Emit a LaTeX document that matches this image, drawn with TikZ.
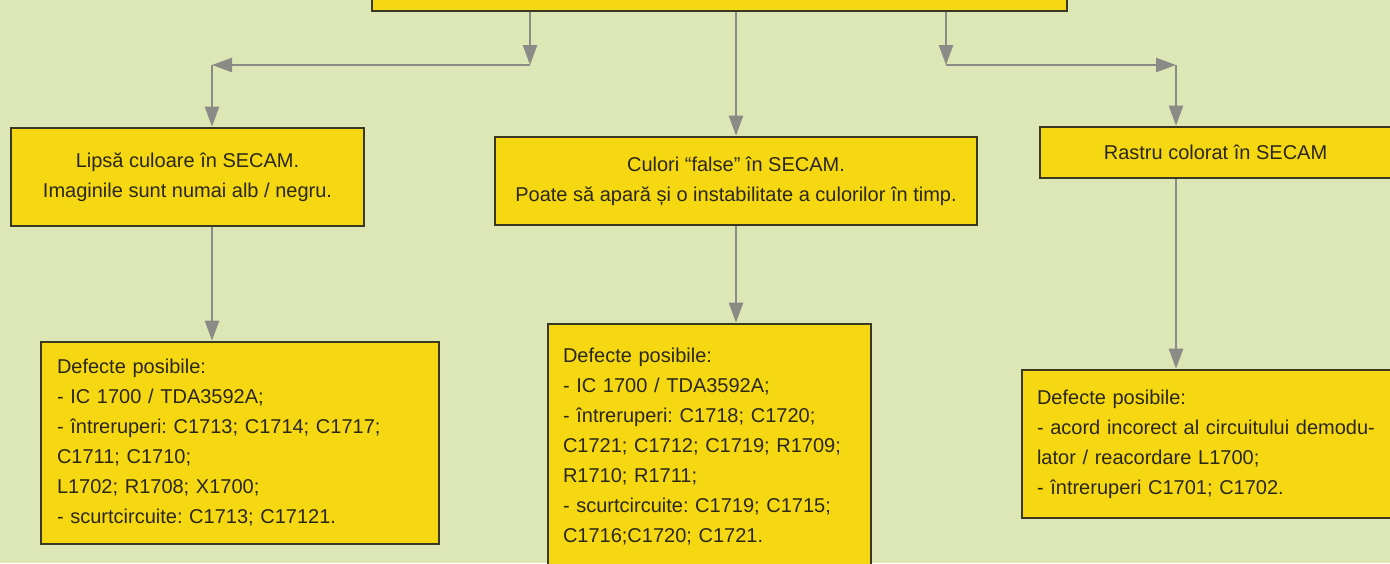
\documentclass[tikz,border=0pt]{standalone}
\usepackage{fontspec}
\setmainfont{Liberation Sans}
\usetikzlibrary{arrows.meta}
\definecolor{bg}{HTML}{DDE7B5}
\definecolor{boxfill}{HTML}{F6D812}
\definecolor{boxline}{HTML}{3A3722}
\definecolor{txt}{HTML}{2A2718}
\definecolor{arrgray}{HTML}{8A8A86}
\begin{document}
\begin{tikzpicture}[x=0.5pt,y=-0.5pt,
  box/.style={draw=boxline, line width=1.3pt, fill=boxfill, text=txt,
    font=\fontsize{10}{15}\selectfont\frenchspacing, inner sep=0pt},
  cbox/.style={box, align=center},
  lbox/.style={box, align=left, inner xsep=7.5pt},
  arr/.style={draw=arrgray, line width=1.2pt, -{Triangle[length=10pt,width=7pt]}}]
\useasboundingbox (0,0) rectangle (1390,563);
\clip (0,0) rectangle (1390,563);
\fill[bg] (0,0) rectangle (1390,563);

% boxes
\node[cbox, minimum width=347.5pt, minimum height=25.5pt] (top) at (719.5,-14.5) {};
\node[cbox, minimum width=176.5pt, minimum height=49pt] (b1) at (187.5,177)
  {Lipsă culoare în SECAM.\\Imaginile sunt numai alb / negru.};
\node[cbox, minimum width=241pt, minimum height=44pt] (m1) at (736,181)
  {Culori “false” în SECAM.\\Poate să apară și o instabilitate a culorilor în timp.};
\node[cbox, minimum width=175.5pt, minimum height=25.5pt] (r1) at (1215.5,152.5)
  {Rastru colorat în SECAM};

\node[lbox, inner xsep=8pt, text width=183pt, minimum height=101pt] (b2) at (240,443)
  {Defecte posibile:\\
   - IC 1700 / TDA3592A;\\
   - întreruperi: C1713; C1714; C1717;\\
   C1711; C1710;\\
   L1702; R1708; X1700;\\
   - scurtcircuite: C1713; C17121.};
\node[lbox, text width=146.5pt, minimum height=123pt] (m2) at (709.5,447)
  {Defecte posibile:\\
   - IC 1700 / TDA3592A;\\
   - întreruperi: C1718; C1720;\\
   C1721; C1712; C1719; R1709;\\
   R1710; R1711;\\
   - scurtcircuite: C1719; C1715;\\
   C1716;C1720; C1721.};
\node[lbox, text width=179pt, minimum height=74pt] (r2) at (1216,444)
  {Defecte posibile:\\
   - acord incorect al circuitului demodu-\\
   lator / reacordare L1700;\\
   - întreruperi C1701; C1702.};

% junction points
\coordinate (j1) at (530,65);
\coordinate (c1) at (212,65);
\coordinate (j2) at (946,65);
\coordinate (c2) at (1176,65);

% connectors
\draw[arr] (top.south -| j1) -- (j1);
\draw[arr] (j1) -- (c1);
\draw[arr] (c1) -- (c1 |- b1.north);
\draw[arr] (top.south -| m1.north) -- (m1.north);
\draw[arr] (top.south -| j2) -- (j2);
\draw[arr] (j2) -- (c2);
\draw[arr] (c2) -- (c2 |- r1.north);
\draw[arr] (c1 |- b1.south) -- (c1 |- b2.north);
\draw[arr] (m1.south) -- (m1.south |- m2.north);
\draw[arr] (c2 |- r1.south) -- (c2 |- r2.north);
\end{tikzpicture}
\end{document}
